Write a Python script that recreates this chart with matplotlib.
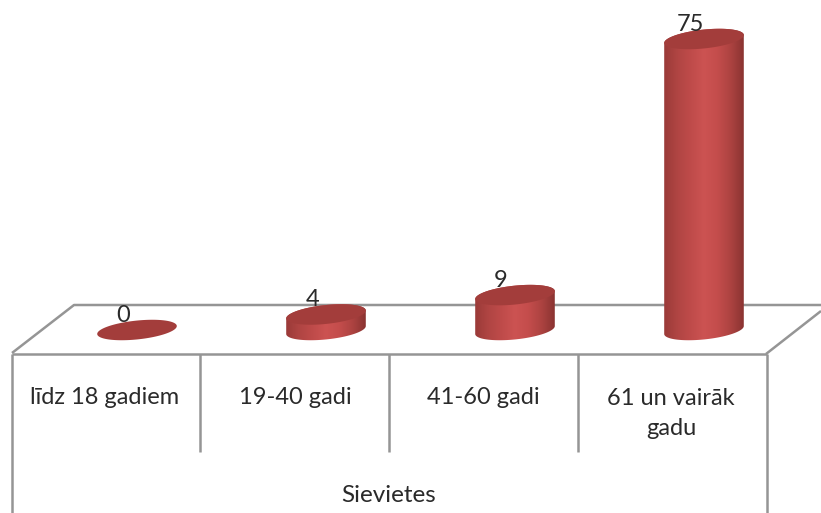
import numpy as np
import matplotlib
matplotlib.use("Agg")
import matplotlib.pyplot as plt
from matplotlib.patches import Polygon
from matplotlib.colors import LinearSegmentedColormap

categories = ["līdz 18 gadiem", "19-40 gadi", "41-60 gadi", "61 un vairāk\ngadu"]
values = [0, 4, 9, 75]
group_label = "Sievietes"

W, H = 821, 513
plt.rcParams["font.family"] = ["Lato", "DejaVu Sans"]
fig = plt.figure(figsize=(W / 100, H / 100), dpi=100, facecolor="white")

# data axes: scale chosen so that category spacing / value units land on the reference layout
X0, XU = 137.0, 189.0     # px of category 0, px per category
Y0, YU = 330.0, 3.88      # px of value 0, px per value unit
ax = fig.add_axes([0, 0, 1, 1], zorder=2)
ax.set_xlim(-X0 / XU, (W - X0) / XU)
ax.set_ylim((Y0 - H) / YU, Y0 / YU)
ax.axis("off")
ax.patch.set_alpha(0)

# frame axes in pixel coordinates for the floor and the table
fr = fig.add_axes([0, 0, 1, 1], zorder=1)
fr.set_xlim(0, W)
fr.set_ylim(H, 0)
fr.axis("off")
grey = "#959595"
lw = 1.8
def seg(x, y):
    fr.plot(x, y, color=grey, lw=lw, solid_capstyle="butt", clip_on=True)
seg([12, 74, W], [353, 305, 305])
seg([12, 767], [354, 354])
seg([766, W], [354, 311])
seg([12, 12], [354, H])
seg([766.5, 766.5], [354, H])
for x in (200, 389, 577.5):
    seg([x, x], [354, 452])

txt = "#2a2a2a"
for x, c in zip((105, 295, 483.5, 671), categories):
    fr.text(x, 397 if "\n" not in c else 413.5, c, ha="center", va="center",
            fontsize=17, color=txt, linespacing=1.52)
fr.text(389, 495, group_label, ha="center", va="center", fontsize=17.5, color=txt)

# cylinders
A, B = 40.0, 9.4          # ellipse semi axes, px
TH = np.deg2rad(6)        # tilt, right side up
cmap = LinearSegmentedColormap.from_list(
    "cyl", ["#9a3a38", "#b04543", "#bf4b4a", "#cc5352", "#c44d4c", "#ad4341", "#8a3331"])
grad = np.linspace(0, 1, 256)[None, :]

def ell(t):
    ex = A * np.cos(t) * np.cos(TH) - B * np.sin(t) * np.sin(TH)
    ey = A * np.cos(t) * np.sin(TH) + B * np.sin(t) * np.cos(TH)
    return ex / XU, ey / YU

t0 = np.arctan2(-B * np.sin(TH), A * np.cos(TH))
half = A * np.cos(t0) * np.cos(TH) - B * np.sin(t0) * np.sin(TH)
half /= XU

for i, v in enumerate(values):
    tt = np.linspace(0, 2 * np.pi, 200)
    ex, ey = ell(tt)
    if v > 0:
        low = np.linspace(t0 + np.pi, t0 + 2 * np.pi, 100)
        up = np.linspace(t0, t0 + np.pi, 100)
        lx, ly = ell(low)
        ux, uy = ell(up)
        body = np.column_stack([np.r_[i + lx, i + ux], np.r_[ly, v + uy]])
        poly = Polygon(body, closed=True, fc="none", ec="none")
        ax.add_patch(poly)
        im = ax.imshow(grad, cmap=cmap, aspect="auto", zorder=3, interpolation="bilinear",
                       extent=[i - half, i + half, -B / YU - 1, v + B / YU + 1])
        im.set_clip_path(poly)
    ax.fill(i + ex, v + ey, color="#a33d3b", lw=0, zorder=4)
    ax.annotate(str(v), (i, v), xytext=(-10, 10.5), textcoords="offset points",
                ha="center", va="center", fontsize=17, color=txt, zorder=5)

ax.set_xlim(-X0 / XU, (W - X0) / XU)
ax.set_ylim((Y0 - H) / YU, Y0 / YU)
fig.savefig("out.png", dpi=100, facecolor="white")
